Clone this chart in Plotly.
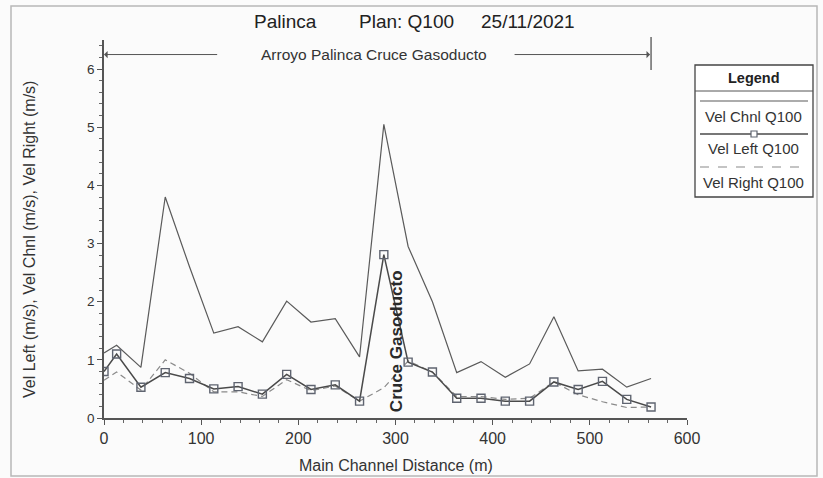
import plotly.graph_objects as go

# ---- data ----
distance = [0, 13, 38, 63, 88, 113, 138, 163, 188, 213, 238, 263, 288, 313,
            338, 363, 388, 413, 438, 463, 488, 513, 538, 563]
vel_chnl = [1.12, 1.25, 0.87, 3.80, 2.60, 1.46, 1.57, 1.31, 2.01, 1.65, 1.71, 1.05,
            5.05, 2.95, 2.00, 0.78, 0.97, 0.70, 0.93, 1.74, 0.81, 0.84, 0.53, 0.68]
vel_left = [0.80, 1.10, 0.53, 0.78, 0.68, 0.50, 0.54, 0.41, 0.75, 0.49, 0.57, 0.29,
            2.81, 0.96, 0.79, 0.34, 0.34, 0.29, 0.29, 0.62, 0.49, 0.63, 0.32, 0.19]
vel_right = [0.65, 0.79, 0.48, 1.00, 0.77, 0.45, 0.45, 0.37, 0.66, 0.47, 0.55, 0.29,
             0.52, 0.98, 0.79, 0.37, 0.37, 0.32, 0.34, 0.62, 0.40, 0.28, 0.18, 0.19]
series_names = ["Vel Chnl Q100", "Vel Left Q100", "Vel Right Q100"]
x_ticks = [0, 100, 200, 300, 400, 500, 600]
y_ticks = [0, 1, 2, 3, 4, 5, 6]
reach_start, reach_end = 0, 563
reach_label = "Arroyo Palinca Cruce Gasoducto"
structure_station = 301
structure_label = "Cruce Gasoducto"
title_parts = ["Palinca", "Plan: Q100", "25/11/2021"]
x_title = "Main Channel Distance (m)"
y_title = "Vel Left (m/s), Vel Chnl (m/s), Vel Right (m/s)"

W, H = 823, 478
L, R, T, B = 104, 687, 40, 418
FONT = "Liberation Sans, Arial, sans-serif"


def px(x):
    return (x - L) / (R - L)


def py(y):
    return (B - y) / (B - T)


fig = go.Figure()
fig.add_trace(go.Scatter(x=distance, y=vel_chnl, mode="lines", name=series_names[0],
                         line=dict(color="#5a5a5a", width=1.2), showlegend=False))
fig.add_trace(go.Scatter(x=distance, y=vel_right, mode="lines", name=series_names[2],
                         line=dict(color="#8a8a8a", width=1.2, dash="6px,4px"), showlegend=False))
fig.add_trace(go.Scatter(x=distance, y=vel_left, mode="lines+markers", name=series_names[1],
                         line=dict(color="#4a4a4a", width=1.5),
                         marker=dict(symbol="square-open", size=8, color="#5f6470",
                                     line=dict(width=1.4)), showlegend=False))

shapes = []
annotations = []


def note(xp, yp, text, size, bold=False, angle=0, color="#333"):
    annotations.append(dict(x=px(xp), y=py(yp), xref="paper", yref="paper",
                            xanchor="center", yanchor="middle",
                            text=("<b>%s</b>" % text) if bold else text, textangle=angle,
                            showarrow=False, font=dict(family=FONT, size=size, color=color)))


# outer frame
shapes.append(dict(type="rect", xref="paper", yref="paper", x0=px(11), x1=px(817),
                   y0=py(476), y1=py(6), line=dict(color="#b8b8b8", width=1.5)))

# reach arrows
annotations.append(dict(x=reach_start, y=6.25, ax=118, ay=6.25, xref="x", yref="y",
                        axref="x", ayref="y", showarrow=True, arrowhead=1, arrowsize=1.2,
                        arrowwidth=1, arrowcolor="#555", text=""))
annotations.append(dict(x=reach_end - 1, y=6.25, ax=421, ay=6.25, xref="x", yref="y",
                        axref="x", ayref="y", showarrow=True, arrowhead=1, arrowsize=1.2,
                        arrowwidth=1, arrowcolor="#555", text=""))
shapes.append(dict(type="line", xref="x", yref="paper", x0=reach_end, x1=reach_end,
                   y0=py(70), y1=py(37), line=dict(color="#444", width=1.2)))
annotations.append(dict(x=278, y=6.25, xref="x", yref="y", text=reach_label, showarrow=False,
                        xanchor="center", font=dict(family=FONT, size=15.5, color="#333")))

# structure label
annotations.append(dict(x=structure_station, y=1.33, xref="x", yref="y",
                        text="<b>" + structure_label + "</b>", textangle=-90, showarrow=False,
                        xanchor="center", yanchor="middle",
                        font=dict(family=FONT, size=17, color="#2a2a2a")))

# title
for cx, part in zip([285, 406, 528], title_parts):
    note(cx, 21, part, 19, color="#222")

# axis titles
note(396, 465, x_title, 16)
note(29, 240, y_title, 16, angle=-90)

# custom legend
lx0, lx1 = 695, 813
lc = (lx0 + lx1) / 2
shapes.append(dict(type="rect", xref="paper", yref="paper", x0=px(lx0), x1=px(lx1),
                   y0=py(197), y1=py(65), line=dict(color="#444", width=1.3), fillcolor="white"))
shapes.append(dict(type="line", xref="paper", yref="paper", x0=px(lx0), x1=px(lx1),
                   y0=py(91), y1=py(91), line=dict(color="#555", width=1)))
note(lc, 78, "Legend", 14.5, bold=True, color="#222")
sample_y = [101, 134, 167]
text_y = [116, 148, 182]
styles = [dict(color="#5a5a5a", width=1.2),
          dict(color="#4a4a4a", width=1.3),
          dict(color="#8a8a8a", width=1.2, dash="dash")]
for i, name in enumerate(series_names):
    shapes.append(dict(type="line", xref="paper", yref="paper", x0=px(lx0 + 5), x1=px(lx1 - 5),
                       y0=py(sample_y[i]), y1=py(sample_y[i]), line=styles[i]))
    note(lc, text_y[i], name, 15)
shapes.append(dict(type="rect", xref="paper", yref="paper", x0=px(751), x1=px(757),
                   y0=py(137), y1=py(131), line=dict(color="#5f6470", width=1.2), fillcolor="white"))

fig.update_layout(
    width=W, height=H,
    margin=dict(l=L, r=W - R, t=T, b=H - B),
    paper_bgcolor="#fbfbfb", plot_bgcolor="rgba(0,0,0,0)",
    font=dict(family=FONT, color="#333"),
    shapes=shapes, annotations=annotations,
    xaxis=dict(range=[0, 600], tickvals=x_ticks, showgrid=False, zeroline=False,
               showline=True, linecolor="#555", linewidth=1.5, ticks="outside", ticklen=5,
               tickcolor="#555", tickfont=dict(size=16, color="#333"),
               minor=dict(dtick=20, ticks="outside", ticklen=3, tickcolor="#666")),
    yaxis=dict(range=[0, 6.5], tickvals=y_ticks, showgrid=False, zeroline=False,
               showline=True, linecolor="#555", linewidth=1.5, ticks="outside", ticklen=5,
               tickcolor="#555", tickfont=dict(size=13.5, color="#333"),
               minor=dict(dtick=0.2, ticks="outside", ticklen=3, tickcolor="#666")),
)

fig.write_html("out.html")
